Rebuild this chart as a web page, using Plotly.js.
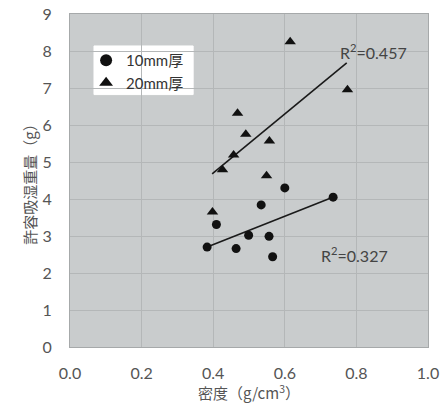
<!DOCTYPE html>
<html><head><meta charset="utf-8">
<script src="https://cdn.plot.ly/plotly-3.0.1.min.js"></script>
<style>body{margin:0;background:#fff}#c{width:442px;height:403px}</style>
</head><body><div id="c"></div>
<script>
const x10 = [0.383, 0.409, 0.464, 0.499, 0.534, 0.556, 0.566, 0.600, 0.735];
const y10 = [2.70, 3.31, 2.66, 3.02, 3.84, 2.99, 2.44, 4.30, 4.05];
const x20 = [0.398, 0.426, 0.457, 0.468, 0.491, 0.549, 0.557, 0.615, 0.775];
const y20 = [3.65, 4.79, 5.19, 6.32, 5.75, 4.63, 5.57, 8.25, 6.95];
const fit10x = [0.383, 0.734];
const fit10y = [2.70, 4.05];
const fit20x = [0.397, 0.773];
const fit20y = [4.68, 7.68];
const r2Labels = ['R<sup>2</sup>=0.457', 'R<sup>2</sup>=0.327'];
const r2Pos = [[0.848, 7.98], [0.796, 2.50]];
const xTicks = [0, 0.2, 0.4, 0.6, 0.8, 1.0];
const xTickText = ['0.0', '0.2', '0.4', '0.6', '0.8', '1.0'];

const font = "Lato, 'Noto Sans CJK JP', sans-serif";
const cjk = "'Noto Sans CJK JP', sans-serif";
const traces = [
  {x: fit10x, y: fit10y, mode: 'lines', line: {color: '#1a1a1a', width: 1.6}, showlegend: false, hoverinfo: 'skip'},
  {x: fit20x, y: fit20y, mode: 'lines', line: {color: '#1a1a1a', width: 1.6}, showlegend: false, hoverinfo: 'skip'},
  {x: x10, y: y10, mode: 'markers', name: '10mm厚', marker: {symbol: 'circle', size: 9, color: '#111'}},
  {x: x20, y: y20, mode: 'markers', name: '20mm厚', marker: {symbol: 'triangle-up', size: 10, color: '#111'}}
];
const layout = {
  width: 442, height: 403,
  margin: {l: 70, r: 14, t: 14, b: 56},
  paper_bgcolor: '#fff', plot_bgcolor: '#c9cccd',
  font: {family: font, color: '#555'},
  xaxis: {range: [0, 1.0], tickvals: xTicks, ticktext: xTickText, showgrid: true, gridcolor: '#b4b7b8', gridwidth: 1,
    zeroline: false, showline: true, linecolor: '#a6a9aa', mirror: true, ticks: '', ticklabelstandoff: 12,
    tickfont: {size: 16, color: '#555'},
    title: {text: '密度（g/cm<sup>3</sup>）', font: {size: 15, color: '#555', family: cjk}, standoff: 6}},
  yaxis: {range: [0, 9], dtick: 1, showgrid: true, gridcolor: '#b4b7b8', gridwidth: 1,
    zeroline: false, showline: true, linecolor: '#a6a9aa', mirror: true, ticks: '', ticklabelstandoff: 14,
    tickfont: {size: 16, color: '#555'},
    title: {text: '許容吸湿重量（g）', font: {size: 15, color: '#555', family: cjk}, standoff: 2}},
  legend: {x: 0.045, y: 0.91, xanchor: 'left', yanchor: 'top', bgcolor: 'rgba(0,0,0,0)', borderwidth: 0,
    font: {size: 15, color: '#333'}, itemsizing: 'constant', itemwidth: 30, tracegroupgap: 0},
  shapes: [
    {type: 'rect', xref: 'paper', yref: 'paper', x0: 0.067, x1: 0.344, y0: 0.758, y1: 0.904,
     fillcolor: 'white', line: {color: 'white', width: 1}, layer: 'between'}
  ],
  annotations: r2Labels.map((t, i) => ({x: r2Pos[i][0], y: r2Pos[i][1], text: t, showarrow: false,
    xanchor: 'center', yanchor: 'middle', font: {size: 16, color: '#444', family: font}})),
  showlegend: true
};
Plotly.newPlot('c', traces, layout, {displayModeBar: false});
</script></body></html>
